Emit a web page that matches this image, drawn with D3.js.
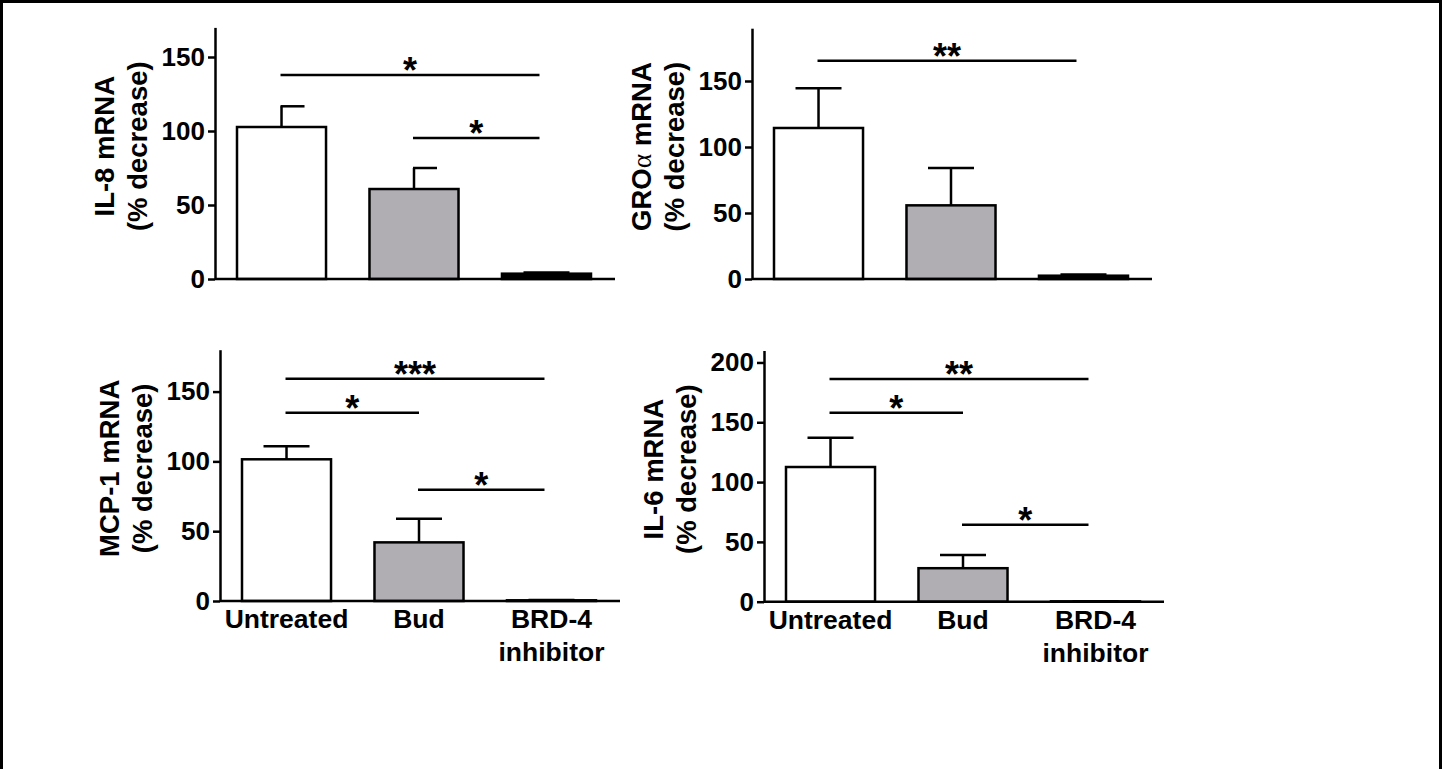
<!DOCTYPE html>
<html>
<head>
<meta charset="utf-8">
<script src="https://cdn.jsdelivr.net/npm/d3@7"></script>
<style>
  body { margin: 0; background: #fff; }
  svg { display: block; font-family: 'Liberation Sans', Arial, Helvetica, sans-serif; }
  .axis path, .axis line { stroke: #000; stroke-width: 2.5px; }
  .axis text { font-size: 26px; font-weight: bold; fill: #000; font-family: 'Liberation Sans', Arial, sans-serif; }
  .axis-title { font-size: 27.5px; font-weight: bold; }
  .cat-label { font-size: 26.5px; font-weight: bold; }
  .sig-star { font-size: 36px; font-weight: bold; }
</style>
</head>
<body>
<svg id="chart" width="1442" height="769"></svg>
<script>
// Groups on the x axis
const categories = ['Untreated', 'Bud', 'BRD-4\ninhibitor'];
const barColors = ['#ffffff', '#b1aeb3', '#000000'];

// Mean and SEM per group (% decrease)
const il8Means = [102.7, 60.8, 3.6];
const il8Sem = [14.0, 14.2, 0.8];
const groMeans = [114.4, 55.8, 2.5];
const groSem = [30.1, 28.2, 1.0];
const mcpMeans = [101.5, 42.0, 0.5];
const mcpSem = [9.3, 17.0, 0.2];
const il6Means = [112.6, 28.0, 0.3];
const il6Sem = [24.4, 11.0, 0.1];

// Y tick labels
const ticks150 = [0, 50, 100, 150];
const ticks200 = [0, 50, 100, 150, 200];

// Significance brackets: [from group, to group, height, label]
const il8Sig = [[0, 2, 137.8, '*'], [1, 2, 95.3, '*']];
const groSig = [[0, 2, 165.4, '**']];
const mcpSig = [[0, 2, 159.2, '***'], [0, 1, 134.9, '*'], [1, 2, 79.7, '*']];
const il6Sig = [[0, 2, 186.2, '**'], [0, 1, 158.0, '*'], [1, 2, 64.4, '*']];

class BarPanel {

    constructor(_config, _data) {
        this.config = {
            parentElement: _config.parentElement,
            axisX: _config.axisX,
            yBottom: _config.yBottom,
            yTop: _config.yTop,
            yMax: _config.yMax,
            ticks: _config.ticks,
            title: _config.title,
            sig: _config.sig || [],
            capMode: _config.capMode || 'both',
            showLabels: _config.showLabels || false
        }
        this.data = _data;
        this.initVis();
    }

    initVis() {
        let vis = this;
        let c = vis.config;

        vis.g = d3.select(c.parentElement).append('g');

        vis.xScale = d3.scaleBand()
            .domain(categories)
            .range([c.axisX + 22, c.axisX + 376])
            .paddingInner(0.328)
            .paddingOuter(0);

        vis.yScale = d3.scaleLinear()
            .domain([0, c.yMax])
            .range([c.yBottom, c.yTop]);

        vis.yAxis = d3.axisLeft(vis.yScale)
            .tickValues(c.ticks)
            .tickSize(7)
            .tickPadding(3)
            .tickSizeOuter(0);

        vis.marks = vis.g.append('g');

        vis.yAxisGroup = vis.g.append('g')
            .attr('class', 'axis y-axis')
            .attr('transform', `translate(${c.axisX},0)`)
            .call(vis.yAxis);

        // x axis is just a baseline, no ticks
        vis.g.append('line')
            .attr('x1', c.axisX)
            .attr('x2', c.axisX + 400)
            .attr('y1', vis.yScale(0))
            .attr('y2', vis.yScale(0))
            .attr('stroke', '#000')
            .attr('stroke-width', 2.5);

        // y axis title, two lines, rotated
        let cy = (c.yTop + c.yBottom) / 2 - 7;
        let title = vis.g.append('text')
            .attr('class', 'axis-title')
            .attr('text-anchor', 'middle')
            .attr('transform', `translate(${c.axisX - 101},${cy}) rotate(-90)`);
        let first = title.append('tspan').attr('x', 0).attr('y', 0);
        c.title[0].forEach(part => {
            first.append('tspan')
                .style('font-family', part.greek ? "'Liberation Serif', serif" : null)
                .style('font-weight', part.greek ? 'normal' : null)
                .text(part.text);
        });
        title.append('tspan')
            .attr('x', 0)
            .attr('y', 33)
            .text(c.title[1]);

        vis.renderVis();
    }

    renderVis() {
        let vis = this;
        let c = vis.config;
        let center = i => vis.xScale(categories[i]) + vis.xScale.bandwidth() / 2;

        vis.marks.selectAll('.bar')
            .data(vis.data)
            .join('rect')
            .attr('class', 'bar')
            .attr('x', d => vis.xScale(d.cat))
            .attr('width', vis.xScale.bandwidth())
            .attr('y', d => vis.yScale(d.mean))
            .attr('height', d => vis.yScale(0) - vis.yScale(d.mean))
            .attr('fill', (d, i) => barColors[i])
            .attr('stroke', '#000')
            .attr('stroke-width', 2.5);

        // Error bars (upper only)
        vis.marks.selectAll('.err-stem')
            .data(vis.data)
            .join('line')
            .attr('class', 'err-stem')
            .attr('x1', (d, i) => center(i))
            .attr('x2', (d, i) => center(i))
            .attr('y1', d => vis.yScale(d.mean))
            .attr('y2', d => vis.yScale(d.mean + d.sem))
            .attr('stroke', '#000')
            .attr('stroke-width', 2.5);

        vis.marks.selectAll('.err-cap')
            .data(vis.data)
            .join('line')
            .attr('class', 'err-cap')
            .attr('x1', (d, i) => (c.capMode === 'right' && i < 2) ? center(i) - 1 : center(i) - 23)
            .attr('x2', (d, i) => center(i) + 23)
            .attr('y1', d => vis.yScale(d.mean + d.sem))
            .attr('y2', d => vis.yScale(d.mean + d.sem))
            .attr('stroke', '#000')
            .attr('stroke-width', 2.5);

        // Significance lines + stars
        vis.marks.selectAll('.sig-line')
            .data(c.sig)
            .join('line')
            .attr('class', 'sig-line')
            .attr('x1', s => center(s[0]) - 1)
            .attr('x2', s => center(s[1]) - (s[1] === 2 ? 7 : 0))
            .attr('y1', s => vis.yScale(s[2]))
            .attr('y2', s => vis.yScale(s[2]))
            .attr('stroke', '#000')
            .attr('stroke-width', 2.5);

        vis.marks.selectAll('.sig-star')
            .data(c.sig)
            .join('text')
            .attr('class', 'sig-star')
            .attr('text-anchor', 'middle')
            .attr('x', s => (center(s[0]) - 1 + center(s[1]) - (s[1] === 2 ? 7 : 0)) / 2)
            .attr('y', s => vis.yScale(s[2]) + 8)
            .text(s => s[3]);

        if (c.showLabels) {
            categories.forEach((cat, i) => {
                let t = vis.g.append('text')
                    .attr('class', 'cat-label')
                    .attr('text-anchor', 'middle');
                cat.split('\n').forEach((line, k) => {
                    t.append('tspan')
                        .attr('x', center(i))
                        .attr('y', vis.yScale(0) + 27 + k * 33)
                        .text(line);
                });
            });
        }
    }
}

const svg = d3.select('#chart');

// outer frame
svg.append('path')
    .attr('d', 'M1.5,769V1.5H1440.5V769')
    .attr('fill', 'none')
    .attr('stroke', '#000')
    .attr('stroke-width', 3);

function rows(means, sems) {
    return categories.map((cat, i) => ({ cat: cat, mean: means[i], sem: sems[i] }));
}

new BarPanel({ parentElement: '#chart', axisX: 215, yBottom: 279, yTop: 27.4, yMax: 170,
    ticks: ticks150, title: [[{ text: 'IL-8 mRNA' }], '(% decrease)'], sig: il8Sig, capMode: 'right' },
    rows(il8Means, il8Sem));

new BarPanel({ parentElement: '#chart', axisX: 752, yBottom: 279, yTop: 28.2, yMax: 190,
    ticks: ticks150, title: [[{ text: 'GRO' }, { text: 'α', greek: true }, { text: ' mRNA' }], '(% decrease)'], sig: groSig },
    rows(groMeans, groSem));

new BarPanel({ parentElement: '#chart', axisX: 220, yBottom: 601, yTop: 349.7, yMax: 180,
    ticks: ticks150, title: [[{ text: 'MCP-1 mRNA' }], '(% decrease)'], sig: mcpSig, showLabels: true },
    rows(mcpMeans, mcpSem));

new BarPanel({ parentElement: '#chart', axisX: 764, yBottom: 601.7, yTop: 350.5, yMax: 210,
    ticks: ticks200, title: [[{ text: 'IL-6 mRNA' }], '(% decrease)'], sig: il6Sig, showLabels: true },
    rows(il6Means, il6Sem));
</script>
</body>
</html>
